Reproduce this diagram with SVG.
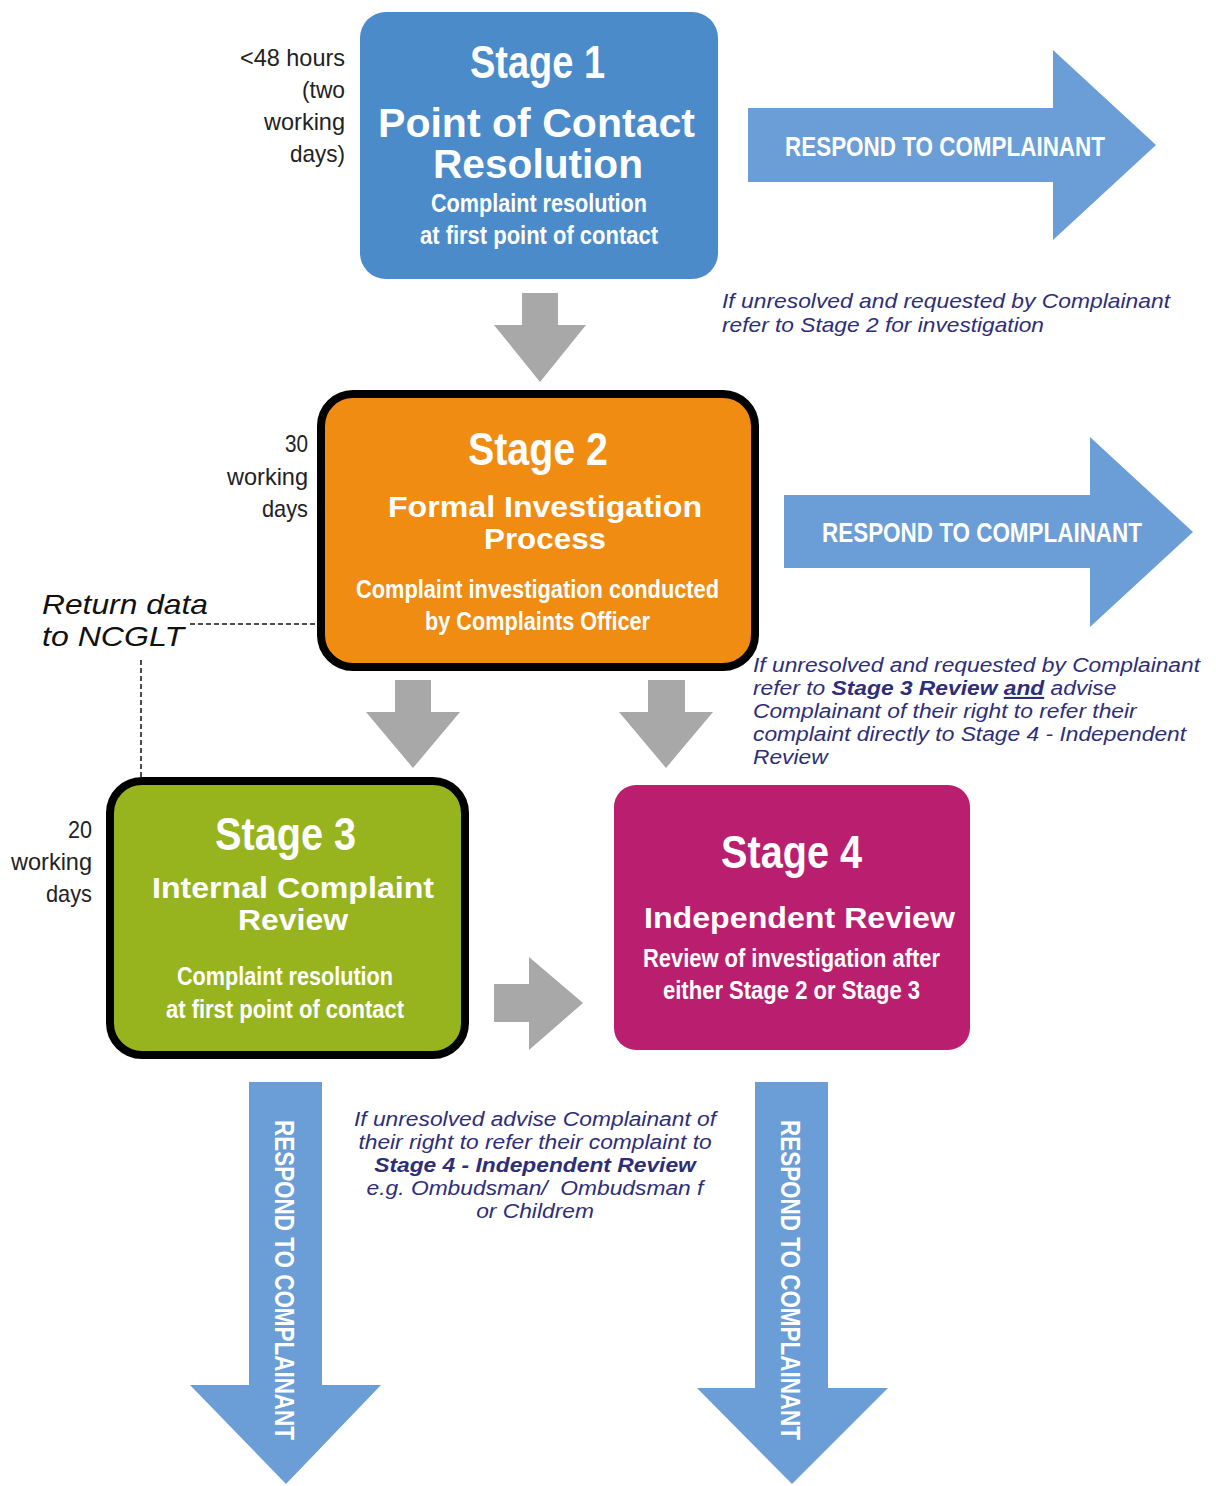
<svg xmlns="http://www.w3.org/2000/svg" width="1216" height="1486" viewBox="0 0 1216 1486">
<style>
.cond{font-family:"Liberation Sans Narrow","Liberation Sans",Arial,sans-serif;font-weight:bold;fill:#fff}
.sub{font-family:"Liberation Sans",Arial,sans-serif;font-weight:bold;fill:#fff}
.lbl{font-family:"Liberation Sans Narrow","Liberation Sans",Arial,sans-serif;fill:#222;font-size:24px}
.note{font-family:"Liberation Sans",Arial,sans-serif;font-style:italic;fill:#2e2e78;font-size:21px}
.b{font-weight:bold}
.resp{font-family:"Liberation Sans Narrow","Liberation Sans",Arial,sans-serif;font-weight:bold;fill:#fff;font-size:28px}
.blue{fill:#6b9ed6}
.gray{fill:#a8a8a8}
.dash{stroke:#111;stroke-width:1.5;stroke-dasharray:5,3;fill:none}
</style>
<rect width="1216" height="1486" fill="#fff"/>

<g id="connectors">
  <polygon class="gray" points="522,293 558,293 558,325 586,325 540,382 494,325 522,325"/>
  <polygon class="gray" points="395,680 431,680 431,712 460,712 413,768 366,712 395,712"/>
  <polygon class="gray" points="648,680 685,680 685,712 713,712 666,768 619,712 648,712"/>
  <polygon class="gray" points="494,984 529,984 529,957 583,1003 529,1050 529,1022 494,1022"/>
  <path class="dash" d="M190,624 H318"/>
  <path class="dash" d="M141,660 V777"/>
</g>

<g id="respond1">
  <polygon class="blue" points="748,108 1053,108 1053,50 1156,145 1053,240 1053,182 748,182"/>
  <text class="resp" x="785" y="156" textLength="320" lengthAdjust="spacingAndGlyphs">RESPOND TO COMPLAINANT</text>
</g>
<g id="respond2">
  <polygon class="blue" points="784,495 1090,495 1090,437 1193,532 1090,627 1090,568 784,568"/>
  <text class="resp" x="822" y="542" textLength="320" lengthAdjust="spacingAndGlyphs">RESPOND TO COMPLAINANT</text>
</g>
<g id="respond3">
  <polygon class="blue" points="249,1082 322,1082 322,1385 381,1385 286,1484 190,1385 249,1385"/>
  <text class="resp" transform="translate(275,1120) rotate(90)" x="0" y="0" textLength="320" lengthAdjust="spacingAndGlyphs">RESPOND TO COMPLAINANT</text>
</g>
<g id="respond4">
  <polygon class="blue" points="755,1082 828,1082 828,1388 888,1388 792,1484 697,1388 755,1388"/>
  <text class="resp" transform="translate(781,1120) rotate(90)" x="0" y="0" textLength="320" lengthAdjust="spacingAndGlyphs">RESPOND TO COMPLAINANT</text>
</g>

<g id="stage1">
  <rect x="360" y="12" width="358" height="267" rx="26" fill="#4b8bca"/>
  <text class="cond" x="470" y="78" font-size="46" textLength="135" lengthAdjust="spacingAndGlyphs">Stage 1</text>
  <text class="sub" x="378" y="137" font-size="41" textLength="317" lengthAdjust="spacingAndGlyphs">Point of Contact</text>
  <text class="sub" x="433" y="178" font-size="41" textLength="210" lengthAdjust="spacingAndGlyphs">Resolution</text>
  <text class="cond" x="431" y="212" font-size="25" textLength="216" lengthAdjust="spacingAndGlyphs">Complaint resolution</text>
  <text class="cond" x="420" y="244" font-size="25" textLength="238" lengthAdjust="spacingAndGlyphs">at first point of contact</text>
</g>
<g id="time1">
  <text class="lbl" x="240" y="66" textLength="105" lengthAdjust="spacingAndGlyphs">&lt;48 hours</text>
  <text class="lbl" x="302" y="98" textLength="43" lengthAdjust="spacingAndGlyphs">(two</text>
  <text class="lbl" x="264" y="130" textLength="81" lengthAdjust="spacingAndGlyphs">working</text>
  <text class="lbl" x="290" y="162" textLength="55" lengthAdjust="spacingAndGlyphs">days)</text>
</g>
<g id="note1">
  <text class="note" x="722" y="308" textLength="448" lengthAdjust="spacingAndGlyphs">If unresolved and requested by Complainant</text>
  <text class="note" x="722" y="332" textLength="322" lengthAdjust="spacingAndGlyphs">refer to Stage 2 for investigation</text>
</g>

<g id="stage2">
  <rect x="321" y="394" width="434" height="273" rx="32" fill="#f08c12" stroke="#000" stroke-width="8"/>
  <text class="cond" x="468" y="465" font-size="46" textLength="140" lengthAdjust="spacingAndGlyphs">Stage 2</text>
  <text class="sub" x="388" y="517" font-size="30" textLength="314" lengthAdjust="spacingAndGlyphs">Formal Investigation</text>
  <text class="sub" x="484" y="549" font-size="30" textLength="122" lengthAdjust="spacingAndGlyphs">Process</text>
  <text class="cond" x="356" y="598" font-size="25" textLength="363" lengthAdjust="spacingAndGlyphs">Complaint investigation conducted</text>
  <text class="cond" x="425" y="630" font-size="25" textLength="225" lengthAdjust="spacingAndGlyphs">by Complaints Officer</text>
</g>
<g id="time2">
  <text class="lbl" x="285" y="452" textLength="23" lengthAdjust="spacingAndGlyphs">30</text>
  <text class="lbl" x="227" y="485" textLength="81" lengthAdjust="spacingAndGlyphs">working</text>
  <text class="lbl" x="262" y="517" textLength="46" lengthAdjust="spacingAndGlyphs">days</text>
</g>
<g id="returndata">
  <text class="note" x="42" y="614" font-size="28" fill="#111" style="fill:#111;font-size:28px" textLength="166" lengthAdjust="spacingAndGlyphs">Return data</text>
  <text class="note" x="42" y="646" style="fill:#111;font-size:28px" textLength="142" lengthAdjust="spacingAndGlyphs">to NCGLT</text>
</g>
<g id="note2" transform="translate(753,0) scale(1.085,1)">
  <text class="note" x="0" y="672">If unresolved and requested by Complainant</text>
  <text class="note" x="0" y="695">refer to <tspan class="b">Stage 3 Review</tspan> <tspan class="b" text-decoration="underline">and</tspan> advise</text>
  <text class="note" x="0" y="718">Complainant of their right to refer their</text>
  <text class="note" x="0" y="741">complaint directly to Stage 4 - Independent</text>
  <text class="note" x="0" y="764">Review</text>
</g>

<g id="stage3">
  <rect x="110" y="781" width="355" height="274" rx="32" fill="#97b41f" stroke="#000" stroke-width="8"/>
  <text class="cond" x="215" y="850" font-size="46" textLength="141" lengthAdjust="spacingAndGlyphs">Stage 3</text>
  <text class="sub" x="152" y="898" font-size="30" textLength="282" lengthAdjust="spacingAndGlyphs">Internal Complaint</text>
  <text class="sub" x="238" y="930" font-size="30" textLength="110" lengthAdjust="spacingAndGlyphs">Review</text>
  <text class="cond" x="177" y="985" font-size="25" textLength="216" lengthAdjust="spacingAndGlyphs">Complaint resolution</text>
  <text class="cond" x="166" y="1018" font-size="25" textLength="238" lengthAdjust="spacingAndGlyphs">at first point of contact</text>
</g>
<g id="time3">
  <text class="lbl" x="68" y="838" textLength="24" lengthAdjust="spacingAndGlyphs">20</text>
  <text class="lbl" x="11" y="870" textLength="81" lengthAdjust="spacingAndGlyphs">working</text>
  <text class="lbl" x="46" y="902" textLength="46" lengthAdjust="spacingAndGlyphs">days</text>
</g>

<g id="stage4">
  <rect x="614" y="785" width="356" height="265" rx="22" fill="#b91f6e"/>
  <text class="cond" x="721" y="868" font-size="46" textLength="141" lengthAdjust="spacingAndGlyphs">Stage 4</text>
  <text class="sub" x="644" y="928" font-size="30" textLength="311" lengthAdjust="spacingAndGlyphs">Independent Review</text>
  <text class="cond" x="643" y="967" font-size="25" textLength="297" lengthAdjust="spacingAndGlyphs">Review of investigation after</text>
  <text class="cond" x="663" y="999" font-size="25" textLength="257" lengthAdjust="spacingAndGlyphs">either Stage 2 or Stage 3</text>
</g>

<g id="note3" transform="translate(535,0) scale(1.085,1)" text-anchor="middle">
  <text class="note" x="0" y="1126">If unresolved advise Complainant of</text>
  <text class="note" x="0" y="1149">their right to refer their complaint to</text>
  <text class="note b" x="0" y="1172">Stage 4 - Independent Review</text>
  <text class="note" x="0" y="1195" xml:space="preserve">e.g. Ombudsman/  Ombudsman f</text>
  <text class="note" x="0" y="1218">or Childrem</text>
</g>
</svg>
